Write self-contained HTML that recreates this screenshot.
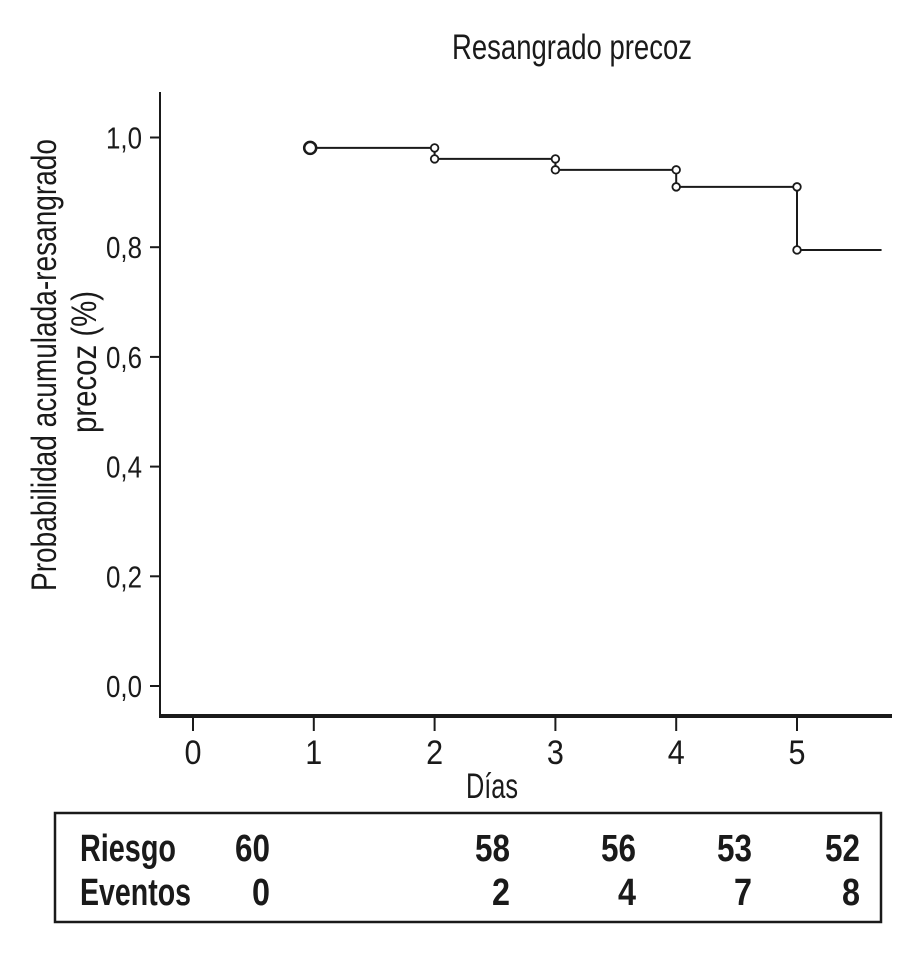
<!DOCTYPE html>
<html><head><meta charset="utf-8"><style>
html,body{margin:0;padding:0;background:#fff;}
svg{display:block;}
text{font-family:"Liberation Sans Narrow","Liberation Sans",sans-serif;fill:#1a1a1a;}
</style></head><body>
<svg id="chart" width="920" height="975" viewBox="0 0 920 975">
<text x="572" y="59" font-size="35" text-anchor="middle" textLength="240" lengthAdjust="spacingAndGlyphs">Resangrado precoz</text>
<g>
<text transform="translate(56,365) rotate(-90)" font-size="35" text-anchor="middle" textLength="452" lengthAdjust="spacingAndGlyphs">Probabilidad acumulada-resangrado</text>
<text transform="translate(96,362) rotate(-90)" font-size="35" text-anchor="middle" textLength="142" lengthAdjust="spacingAndGlyphs">precoz (%)</text>
</g>
<line x1="160" y1="92" x2="160" y2="717" stroke="#1a1a1a" stroke-width="2"/>
<line x1="159" y1="716" x2="892" y2="716" stroke="#1a1a1a" stroke-width="4"/>
<g id="yticks"></g><g id="xticks"></g><g id="series"></g>
<text x="492" y="798" font-size="35" text-anchor="middle" textLength="52" lengthAdjust="spacingAndGlyphs">Días</text>
<rect x="55" y="813" width="826" height="109" fill="none" stroke="#1a1a1a" stroke-width="2.5"/>
<g id="table" font-weight="bold" font-size="38"></g>
</svg>
<script>
const yTicks=[0,0.2,0.4,0.6,0.8,1.0];
const yTickLabels=["0,0","0,2","0,4","0,6","0,8","1,0"];
const xTicks=[0,1,2,3,4,5];
const stepDays=[0.97,2,3,4,5,5.7];
const survival=[0.981,0.961,0.941,0.91,0.795,0.795];
const riskDays=[0,2,3,4,5];
const riskCounts=[60,58,56,53,52];
const eventCounts=[0,2,4,7,8];
const colRightPx=[270,510,636,752,860];
const NS="http://www.w3.org/2000/svg";
const yS=v=>686-v*548.5;
const xS=d=>193+120.8*d;
function mk(tag,attrs,parent){const e=document.createElementNS(NS,tag);for(const k in attrs)e.setAttribute(k,attrs[k]);parent.appendChild(e);return e;}
const yt=document.getElementById('yticks');
yTicks.forEach((v,i)=>{
 const l=mk('line',{x1:150,x2:160,y1:yS(v),y2:yS(v),stroke:'#1a1a1a','stroke-width':2},yt);
 
 
 const t=mk('text',{x:142,y:yS(v)+11,'font-size':31,'text-anchor':'end',textLength:36,lengthAdjust:'spacingAndGlyphs'},yt);
 t.textContent=yTickLabels[i];
 
 
});
const xt=document.getElementById('xticks');
xTicks.forEach(d=>{
 const l=mk('line',{x1:xS(d),x2:xS(d),y1:718,y2:731,stroke:'#1a1a1a','stroke-width':2},xt);
 
 
 const t=mk('text',{x:xS(d),y:764,'font-size':34,'text-anchor':'middle',textLength:17,lengthAdjust:'spacingAndGlyphs'},xt);
 t.textContent=String(d);
 
 
});
const sg=document.getElementById('series');
let p='M'+xS(stepDays[0])+' '+yS(survival[0]);
for(let i=1;i<stepDays.length;i++){
 p+=' H'+xS(stepDays[i]);
 if(i<stepDays.length-1)p+=' V'+yS(survival[i]);
}
const path=mk('path',{d:p,fill:'none',stroke:'#1a1a1a','stroke-width':2},sg);


const c0=mk('circle',{cx:xS(stepDays[0]),cy:yS(survival[0]),r:6,fill:'#fff',stroke:'#1a1a1a','stroke-width':2.5},sg);


for(let i=1;i<stepDays.length-1;i++){
 [survival[i-1],survival[i]].forEach(v=>{
  const c=mk('circle',{cx:xS(stepDays[i]),cy:yS(v),r:3.8,fill:'#fff',stroke:'#1a1a1a','stroke-width':1.8},sg);
  
  
 });
}
const tb=document.getElementById('table');
const h1=mk('text',{x:80,y:861,textLength:96,lengthAdjust:'spacingAndGlyphs'},tb);
h1.textContent='Riesgo';


const h2=mk('text',{x:80,y:905,textLength:111,lengthAdjust:'spacingAndGlyphs'},tb);
h2.textContent='Eventos';


riskDays.forEach((d,i)=>{
 const a=mk('text',{x:colRightPx[i],y:861,'text-anchor':'end',textLength:35,lengthAdjust:'spacingAndGlyphs'},tb);
 a.textContent=riskCounts[i];
 
 
 const b=mk('text',{x:colRightPx[i],y:905,'text-anchor':'end',textLength:18,lengthAdjust:'spacingAndGlyphs'},tb);
 b.textContent=eventCounts[i];
 
 
});
</script>
</body></html>
